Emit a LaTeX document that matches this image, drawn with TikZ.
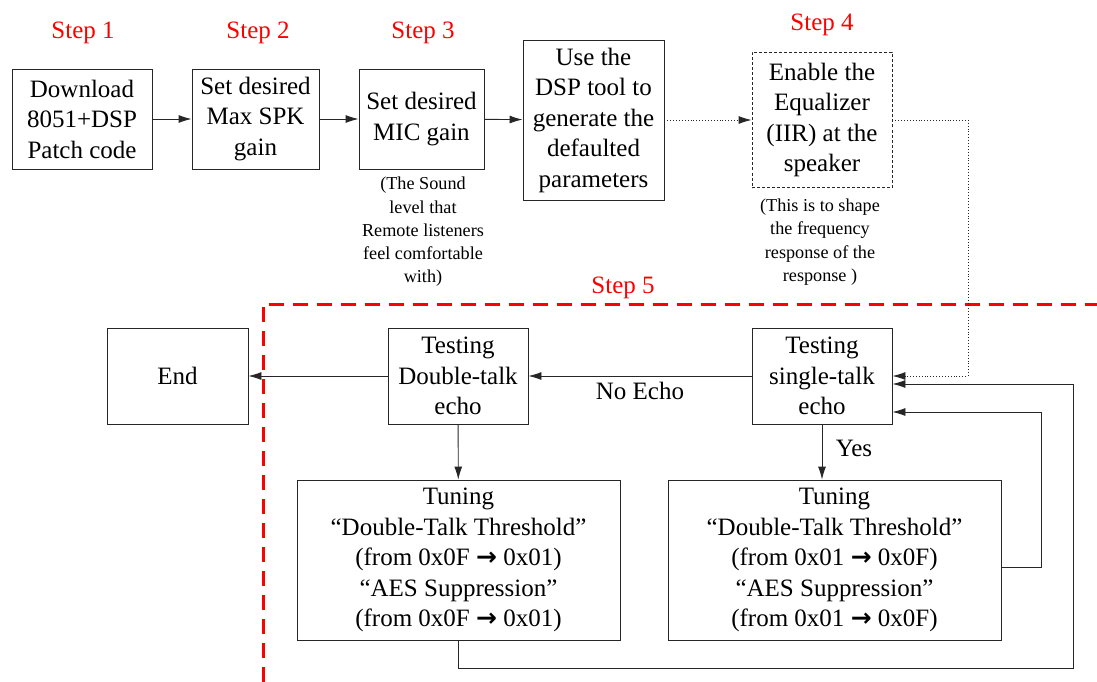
\documentclass[tikz,border=0pt]{standalone}
\usepackage{fontspec}
\setmainfont{Liberation Serif}
\newfontfamily\arrowfont{DejaVu Sans}
\newcommand{\thickarrow}{{\arrowfont\bfseries\fontsize{25}{25}\selectfont →}}
\usetikzlibrary{arrows.meta}
\tikzset{
  box/.style={draw=black!85, line width=0.9pt, align=center, inner sep=0pt,
    font=\fontsize{25}{30.5}\selectfont},
  note/.style={align=center, font=\fontsize{18.2}{23.3}\selectfont},
  steplbl/.style={text=red, font=\fontsize{25}{30}\selectfont},
  flow/.style={draw=black!85, line width=0.9pt, -{Latex[length=13pt,width=8pt]}},
}
\begin{document}
\begin{tikzpicture}[x=1pt, y=-1pt]
            \useasboundingbox (0,0) rectangle (1097,682);
            % step labels
            \node[steplbl] (lbla) at (83,33) {Step 1};
            \node[steplbl] (lblb) at (258,33) {Step 2};
            \node[steplbl] (lblc) at (423,33) {Step 3};
            \node[steplbl] (lbld) at (822,25) {Step 4};
            \node[steplbl] (lble) at (623,288) {Step 5};
            % top row
            \node[box, minimum width=140pt, minimum height=100pt] (download) at (82,119) {Download\\8051+DSP\\Patch code};
            \node[box, minimum width=127pt, minimum height=100pt] (maxspk) at (255.5,119) {Set desired\\Max SPK\\gain};
            \node[box, minimum width=125pt, minimum height=100pt] (micgain) at (421.5,119) {Set desired\\MIC gain};
            \node[box, minimum width=141pt, minimum height=160pt] (dsptool) at (593.5,120) {Use the\\DSP tool to\\generate the\\defaulted\\parameters};
            \node[box, dash pattern=on 3pt off 2pt, minimum width=140pt, minimum height=135pt] (equalizer) at (822,120) {Enable the\\Equalizer\\(IIR) at the\\speaker};
            \node[note] (micnote) at (423,232) {(The Sound\\level that\\Remote listeners\\feel comfortable\\with)};
            \node[note] (eqnote) at (820,242) {(This is to shape\\the frequency\\response of the\\response )};
            % step 5 frame
            \draw[red, line width=3pt, dash pattern=on 15pt off 9pt] (263,682) -- (263,304) -- (1097,304);
            % bottom part
            \node[box, minimum width=140pt, minimum height=96pt] (singletalk) at (822,376) {Testing\\single-talk\\echo};
            \node[box, minimum width=140pt, minimum height=96pt] (doubletalk) at (458,376) {Testing\\Double-talk\\echo};
            \node[box, minimum width=141pt, minimum height=96pt] (endbox) at (177.5,376) {End};
            \node[box, minimum width=323pt, minimum height=160pt] (tunedt) at (458.5,560) {Tuning\\“Double-Talk Threshold”\\(from 0x0F \thickarrow\ 0x01)\\“AES Suppression”\\(from 0x0F \thickarrow\ 0x01)};
            \node[box, minimum width=333pt, minimum height=160pt] (tunest) at (834.5,560) {Tuning\\“Double-Talk Threshold”\\(from 0x01 \thickarrow\ 0x0F)\\“AES Suppression”\\(from 0x01 \thickarrow\ 0x0F)};
            \coordinate (eqturn) at (968,120);
            \coordinate (loopa) at (1073,668);
            \coordinate (loopb) at (1041,567);
            % connectors
            \draw[flow] (download) -- (maxspk);
            \draw[flow] (maxspk) -- (micgain);
            \draw[flow] (micgain) -- (dsptool);
            \draw[flow, dotted] (dsptool) -- (equalizer);
            \draw[flow, dotted] (equalizer.east) -- (eqturn) |- (singletalk.east);
            \draw[flow] (singletalk) -- node[below, yshift=-2pt, font=\fontsize{25}{30}\selectfont] {No Echo} (doubletalk);
            \draw[flow] (doubletalk) -- (endbox);
            \draw[flow] (doubletalk) -- (tunedt);
            \draw[flow] (singletalk.south) -- node[right, xshift=10pt, yshift=4pt, font=\fontsize{25}{30}\selectfont] {Yes} (singletalk.south |- tunest.north);
            \draw[flow] (tunedt.south) |- (loopa) |- ([yshift=-8pt]singletalk.east);
            \draw[flow] ([yshift=-7pt]tunest.east) -- (loopb) |- ([yshift=-36pt]singletalk.east);
        \end{tikzpicture}
\end{document}
